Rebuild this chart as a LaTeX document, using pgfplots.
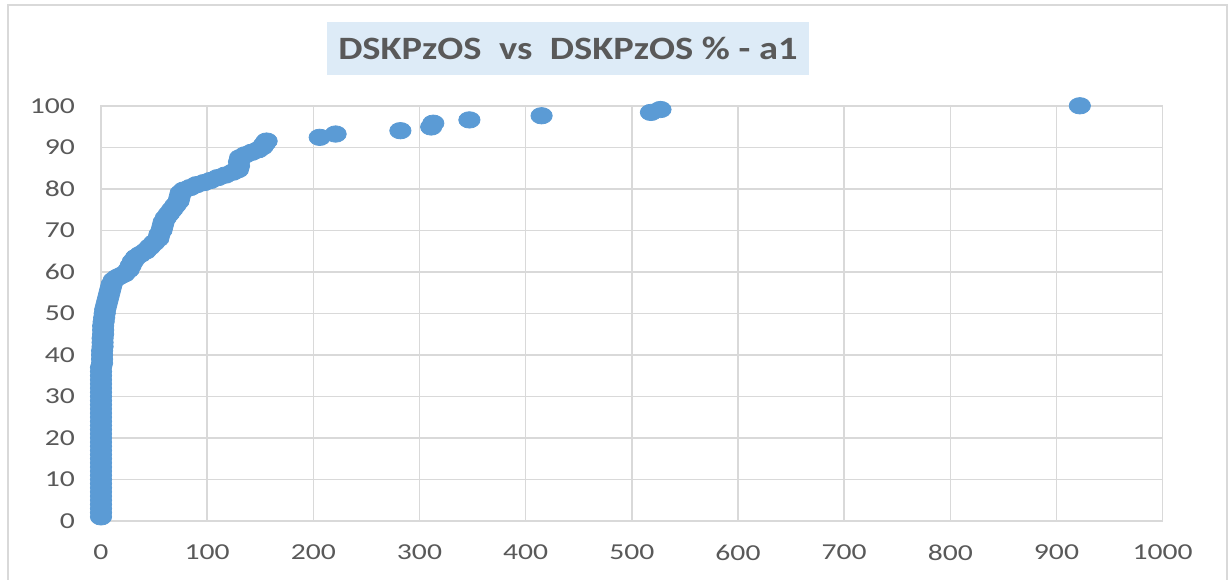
\documentclass[border=0pt]{standalone}
\usepackage{pgfplots}
\pgfplotsset{compat=1.18}
\usepackage{fontspec}
\setmainfont{Carlito}[FakeStretch=1.3]
\newfontfamily\titlefont{Carlito}[FakeStretch=1.18]
\definecolor{ptcol}{HTML}{5B9BD5}
\definecolor{txtgray}{HTML}{595959}
\definecolor{gridgray}{HTML}{D9D9D9}
\definecolor{titlebg}{HTML}{DDEBF7}
\begin{document}
\begin{tikzpicture}[x=0.5bp,y=0.5bp]
\clip (0,0) rectangle (1228,580);
\useasboundingbox (0,0) rectangle (1228,580);
\fill[white] (0,0) rectangle (1228,580);
\draw[gridgray, line width=1bp] (8,575) rectangle (1227,-40);
\node[fill=titlebg, minimum width=241bp, minimum height=26.5bp, inner sep=0pt, text=txtgray, font=\titlefont\bfseries\fontsize{16.3bp}{18bp}\selectfont] at (568,531.5) {DSKPzOS\ \ vs\ \ DSKPzOS \% - a1};
\begin{axis}[
  at={(50.5bp,29.5bp)}, anchor=south west,
  scale only axis, width=530.8bp, height=207.6bp,
  xmin=0, xmax=1000, ymin=0, ymax=100,
  xtick={0,100,...,1000}, ytick={0,10,...,100},
  grid=major, major grid style={gridgray, line width=0.8bp},
  axis line style={gridgray, line width=0.8bp},
  tick style={draw=none},
  ticklabel style={text=txtgray, font=\fontsize{11.4bp}{13bp}\selectfont},
  /pgf/number format/assume math mode=true,
  /pgf/number format/1000 sep={},
  xticklabel style={yshift=-8.5bp},
  yticklabel style={xshift=-9.5bp},
  clip=false,
]
\addplot[only marks, mark=*, mark size=4.1bp, mark options={xscale=1.3, fill=ptcol, draw=ptcol}] coordinates {
(0,1)(0,2)(0,3)(0,4)(0,5)(0,6)(0,7)(0,8)(0,9)(0,10)(0,11)(0,12)(0,13)(0,14)(0,15)(0,16)(0,17)(0,18)(0,19)(0,20)
(0,21)(0,22)(0,23)(0,24)(0,25)(0,26)(0,27)(0,28)(0,29)(0,30)(0,31)(0,32)(0,33)(0,34)(0,35)(0,36)(0,37)
(1,38)(1,39)(1,40)(1,41)(1.5,42)(1.5,43)(1.5,44)(2,45)(2,46)(2,47)(2.5,48)(3,49)(3.5,50)(4,51)(5,52)(6,53)(7,54)(8,55)(9,56)(10,57)
(12,58)(15,58.6)(18,59)(22,59.5)(26,60.5)(28,61.5)(30,62.5)(33,63.5)(37,64.2)(42,65)(46,66)(50,67)(54,68)(55,69)(57,70)(58,71)(59,72)(61,73)(64,74)(67,75)(70,76)(73,77)(74,78)(75,79)(78,79.7)(84,80.3)(90,81)(97,81.5)(103,82)(110,82.7)(117,83.3)(124,84)(129,84.6)(130,85.5)(130,86.5)(131,87.5)(136,88.2)(142,88.8)(148,89.4)(152,90.1)(154,90.8)(156,91.5)
(206,92.4)(221,93.2)(282,94)(311,94.9)(313,95.8)(347,96.6)(415,97.6)(518,98.4)(527,99.1)(922,100)
};
\end{axis}
\end{tikzpicture}
\end{document}
